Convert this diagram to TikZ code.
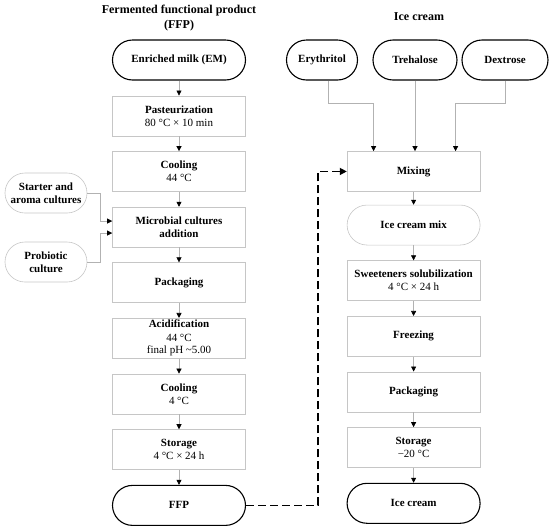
\documentclass[tikz,border=0pt]{standalone}
\usepackage{fontspec}
\setmainfont{Liberation Serif}
\usetikzlibrary{positioning, arrows.meta, calc}

\begin{document}
\begin{tikzpicture}[x=1pt, y=-1pt, font=\fontsize{11}{13}\selectfont, node distance=15pt,
  box/.style={draw=gray!45, line width=0.6pt, minimum width=133pt, minimum height=40pt, align=center, inner sep=2pt},
  term/.style={draw, line width=1.1pt, rounded corners=20pt, minimum width=133pt, minimum height=40pt, align=center, font=\fontsize{11}{13}\selectfont\bfseries},
  ov/.style={draw=gray!45, line width=0.6pt, rounded corners=20pt, minimum width=133pt, minimum height=40pt, align=center, font=\fontsize{11}{13}\selectfont\bfseries},
  arr/.style={draw=gray!60, line width=0.6pt, -{Triangle[color=black, length=5pt, width=5pt]}},
  dsh/.style={draw, line width=1.4pt, dash pattern=on 8pt off 4pt, -{Triangle[length=7pt, width=7pt]}}]
  \useasboundingbox (0,0) rectangle (550,528);
  % titles
  \node[font=\fontsize{12}{15}\selectfont\bfseries, align=center] (tffp) at (179,18) {Fermented functional product\\(FFP)};
  \node[font=\fontsize{12}{15}\selectfont\bfseries] (tic) at (419,17) {Ice cream};
  % FFP line
  \node[term] (em) at (179,60) {Enriched milk (EM)};
  \node[box, below=of em] (past) {\textbf{Pasteurization}\\80 °C × 10 min};
  \node[box, below=of past] (cool1) {\textbf{Cooling}\\44 °C};
  \node[box, below=of cool1] (mic) {\textbf{Microbial cultures}\\\textbf{addition}};
  \node[box, below=of mic] (pack1) {\textbf{Packaging}};
  \node[box, below=of pack1] (acid) {\textbf{Acidification}\\44 °C\\final pH \textasciitilde5.00};
  \node[box, below=of acid] (cool2) {\textbf{Cooling}\\4 °C};
  \node[box, below=of cool2] (stor1) {\textbf{Storage}\\4 °C × 24 h};
  \node[term, below=of stor1] (ffp) {FFP};
  % cultures
  \node[ov, minimum width=82pt] (start) at (46,193) {Starter and\\aroma cultures};
  \node[ov, minimum width=82pt] (prob) at (46,262) {Probiotic\\culture};
  % ice cream line
  \node[term, minimum width=71pt] (ery) at (322,60) {Erythritol};
  \node[term, minimum width=84pt] (tre) at (415,60) {Trehalose};
  \node[term, minimum width=86pt] (dex) at (505,60) {Dextrose};
  \node[box, right=101pt of cool1] (mix) {\textbf{Mixing}};
  \node[ov, below=13pt of mix] (icm) {Ice cream mix};
  \node[box, below=of icm] (sol) {\textbf{Sweeteners solubilization}\\4 °C × 24 h};
  \node[box, below=of sol] (frz) {\textbf{Freezing}};
  \node[box, below=of frz] (pack2) {\textbf{Packaging}};
  \node[box, below=of pack2] (stor2) {\textbf{Storage}\\−20 °C};
  \node[term, below=of stor2] (ic) {Ice cream};
  % connectors
  \foreach \a/\b in {em/past, past/cool1, cool1/mic, mic/pack1, pack1/acid, acid/cool2, cool2/stor1, stor1/ffp,
                     mix/icm, icm/sol, sol/frz, frz/pack2, pack2/stor2, stor2/ic}
    \draw[arr] (\a) -- (\b);
  \draw[arr] (start.east) -- ++(13,0) |- ([yshift=6pt]mic.west);
  \draw[arr] (prob.east) -- ++(13,0) |- ([yshift=-6pt]mic.west);
  \draw[arr] ([xshift=6pt]ery.south) -- ++(0,23) -| ([xshift=-40pt]mix.north);
  \draw[arr] (tre.south) -- (tre.south |- mix.north);
  \draw[arr] (dex.south) -- ++(0,23) -| ([xshift=42pt]mix.north);
  \draw[dsh] (ffp.east) -- ++(72,0) |- (mix.west);
\end{tikzpicture}
\end{document}
